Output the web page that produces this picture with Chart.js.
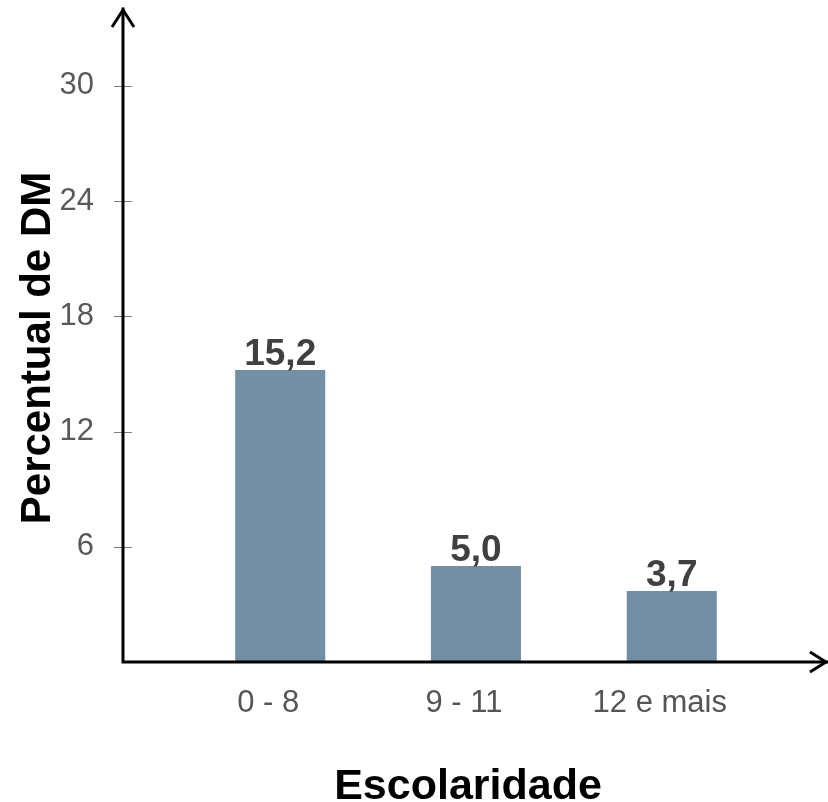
<!DOCTYPE html>
<html>
<head>
<meta charset="utf-8">
<script src="https://cdn.jsdelivr.net/npm/chart.js@4/dist/chart.umd.min.js"></script>
<style>
  html, body { margin: 0; padding: 0; background: #fff; }
  #wrap { width: 828px; height: 802px; position: relative; }
</style>
</head>
<body>
<div id="wrap"><canvas id="c"></canvas></div>
<script>
// Escolaridade x percentual de DM
const categories = ['0 - 8', '9 - 11', '12 e mais'];
const values = [15.2, 5.0, 3.7];
const tickValues = [6, 12, 18, 24, 30];
const xTitle = 'Escolaridade';
const yTitle = 'Percentual de DM';

const FONT = '"Liberation Sans", Arial, Helvetica, sans-serif';
const BAR_COLOR = '#738fa4';

const fmt = v => v.toFixed(1).replace('.', ',');

// axis lines with arrowheads, small tick marks, value labels and axis titles
const decorations = {
  id: 'decorations',
  afterDraw(chart) {
    const ctx = chart.ctx;
    const area = chart.chartArea;
    const ys = chart.scales.y;
    const x0 = area.left, y0 = ys.getPixelForValue(0);
    const yTop = ys.getPixelForValue(ys.max);
    const xEnd = area.right;
    ctx.save();

    // y tick marks crossing the axis
    ctx.strokeStyle = '#808080';
    ctx.lineWidth = 1;
    tickValues.forEach(v => {
      const py = Math.round(ys.getPixelForValue(v)) + 0.5;
      ctx.beginPath();
      ctx.moveTo(x0 - 9, py);
      ctx.lineTo(x0 + 9, py);
      ctx.stroke();
    });

    // axes
    ctx.strokeStyle = '#000';
    ctx.lineWidth = 3;
    ctx.lineCap = 'square';
    ctx.beginPath();
    ctx.moveTo(x0, y0);
    ctx.lineTo(x0, yTop);
    ctx.moveTo(x0, y0);
    ctx.lineTo(xEnd, y0);
    ctx.stroke();
    ctx.lineCap = 'butt';
    ctx.lineJoin = 'miter';
    ctx.beginPath();
    ctx.moveTo(x0 - 11, yTop + 18);
    ctx.lineTo(x0, yTop + 1);
    ctx.lineTo(x0 + 11, yTop + 18);
    ctx.moveTo(xEnd - 17, y0 - 10);
    ctx.lineTo(xEnd - 1, y0);
    ctx.lineTo(xEnd - 17, y0 + 10);
    ctx.stroke();

    // value labels above bars
    const meta = chart.getDatasetMeta(0);
    ctx.fillStyle = '#404040';
    ctx.font = 'bold 37px ' + FONT;
    ctx.textAlign = 'center';
    ctx.textBaseline = 'alphabetic';
    meta.data.forEach((bar, i) => {
      ctx.fillText(fmt(values[i]), bar.x, bar.y - 5);
    });

    // axis titles
    ctx.fillStyle = '#000';
    ctx.font = 'bold 43px ' + FONT;
    ctx.fillText(xTitle, 468, 799);
    ctx.save();
    ctx.translate(50, 348);
    ctx.rotate(-Math.PI / 2);
    ctx.font = 'bold 42px ' + FONT;
    ctx.fillText(yTitle, 0, 0);
    ctx.restore();

    ctx.restore();
  }
};

new Chart(document.getElementById('c'), {
  type: 'bar',
  data: {
    datasets: [{
      data: categories.map((c, i) => ({ x: i, y: values[i] })),
      backgroundColor: BAR_COLOR,
      borderWidth: 0,
      categoryPercentage: 1,
      barPercentage: 0.46
    }]
  },
  options: {
    responsive: true,
    maintainAspectRatio: false,
    animation: false,
    layout: { padding: { top: 9, right: 1, left: 0, bottom: 0 } },
    plugins: { legend: { display: false }, tooltip: { enabled: false } },
    scales: {
      x: {
        type: 'linear',
        min: -0.803,
        max: 2.793,
        offset: false,
        grid: { display: false, drawTicks: false },
        border: { display: false },
        afterFit: s => { s.height = 140; s.paddingLeft = 0; s.paddingRight = 0; },
        afterBuildTicks: s => { s.ticks = categories.map((c, i) => ({ value: i })); },
        ticks: {
          padding: 23,
          labelOffset: -12,
          color: '#555',
          font: { family: FONT, size: 31 },
          callback: v => categories[v]
        }
      },
      y: {
        min: 0,
        max: 34,
        grid: { display: false, drawTicks: false },
        border: { display: false },
        afterFit: s => { s.width = 123; s.paddingTop = 0; s.paddingBottom = 0; },
        afterBuildTicks: s => { s.ticks = tickValues.map(v => ({ value: v })); },
        ticks: {
          padding: 29,
          color: '#595959',
          font: { family: FONT, size: 31 },
          callback: v => String(v)
        }
      }
    }
  },
  plugins: [decorations]
});
</script>
</body>
</html>
